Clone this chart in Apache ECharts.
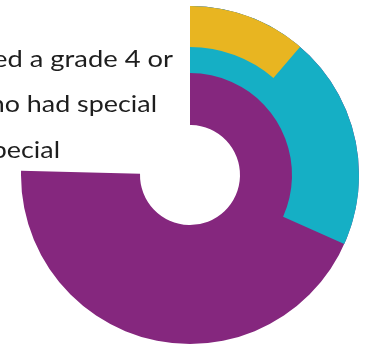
<!DOCTYPE html>
<html>
<head>
<meta charset="utf-8">
<script src="https://cdn.jsdelivr.net/npm/echarts@6/dist/echarts.min.js"></script>
<style>
html,body{margin:0;padding:0;background:#fff;}
#chart{width:371px;height:347px;}
</style>
</head>
<body>
<div id="chart"></div>
<script>
// Data
var categories = ['Grade 4 or above', 'Special educational needs', 'Special'];
var shares = [75.4, 31.7, 11.3];           // percent of full circle
var colors = ['#85277E', '#15AFC5', '#E8B521'];
var textLines = ['achieved a grade 4 or', 'who had special', 'special'];

var ringInner = [50, 102, 128];
var ringOuter = 169;
var cx = 190, cy = 175;

var chart = echarts.init(document.getElementById('chart'), null, {renderer: 'canvas'});

var series = categories.map(function (name, i) {
  return {
    type: 'pie',
    name: name,
    silent: true,
    animation: false,
    center: [cx, cy],
    radius: [ringInner[i], ringOuter],
    startAngle: 90,
    clockwise: true,
    z: i + 1,
    label: {show: false},
    labelLine: {show: false},
    emphasis: {disabled: true},
    itemStyle: {borderWidth: 0},
    data: [
      {name: name, value: shares[i], itemStyle: {color: colors[i]}},
      {name: 'rest', value: 100 - shares[i], itemStyle: {color: 'rgba(0,0,0,0)'}}
    ]
  };
});

var textRight = [173, 157, 60];
var textBottom = [71, 116.5, 162];
var textScale = [1.14, 1.12, 1.12];

chart.setOption({
  animation: false,
  tooltip: {show: false},
  series: series,
  graphic: textLines.map(function (t, i) {
    return {
      type: 'text',
      x: textRight[i],
      y: textBottom[i],
      scaleX: textScale[i],
      style: {
        text: t,
        fill: '#1e1e1e',
        font: '24px Lato',
        textAlign: 'right',
        textVerticalAlign: 'bottom'
      }
    };
  })
});
</script>
</body>
</html>
